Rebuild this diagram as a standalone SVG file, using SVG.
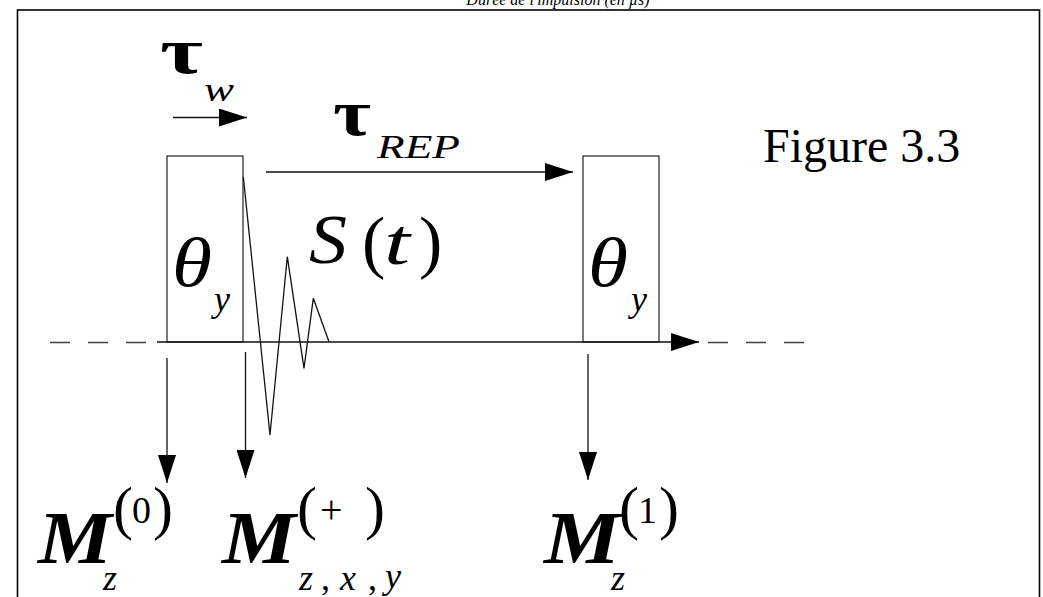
<svg xmlns="http://www.w3.org/2000/svg" width="1043" height="597" viewBox="0 0 1043 597">
<style>
  .ln{stroke:#111;stroke-width:1.3;fill:none}
  .box{stroke:#333;stroke-width:1.3;fill:none}
  .it{font-family:"Liberation Serif","Times New Roman","DejaVu Serif",serif;font-style:italic;fill:#000}
  .rm{font-family:"Liberation Serif","Times New Roman","DejaVu Serif",serif;fill:#000}
  .dash{stroke:#444;stroke-width:1.3;stroke-dasharray:20 18;fill:none}
</style>
<defs>
  <marker id="ah" viewBox="0 0 28 18" refX="28" refY="9" markerWidth="28" markerHeight="18" markerUnits="userSpaceOnUse" orient="auto">
    <path d="M0,0 L28,9 L0,18 z" fill="#000"/>
  </marker>
</defs>
<rect width="1043" height="597" fill="#fff"/>
<text class="it" x="558" y="5" font-size="16" text-anchor="middle">Durée de l'impulsion (en µs)</text>
<rect id="frame" x="17.5" y="10" width="1022" height="600" fill="none" stroke="#000" stroke-width="1.6"/>

<g id="pulse1">
  <rect class="box" x="167" y="156" width="76" height="186"/>
  <text class="it" x="172" y="286" font-size="70" textLength="40" lengthAdjust="spacingAndGlyphs">θ</text>
  <text class="it" x="214" y="311" font-size="36">y</text>
</g>
<g id="pulse2">
  <rect class="box" x="583" y="156" width="76" height="186"/>
  <text class="it" x="588" y="286" font-size="70" textLength="40" lengthAdjust="spacingAndGlyphs">θ</text>
  <text class="it" x="631" y="311" font-size="36">y</text>
</g>
<g id="tauw">
  <text class="rm" x="160" y="73" font-size="66" font-weight="bold" textLength="43" lengthAdjust="spacingAndGlyphs">τ</text>
  <text class="it" x="204" y="101" font-size="34" textLength="30" lengthAdjust="spacingAndGlyphs">w</text>
</g>
<g id="taurep">
  <text class="rm" x="333" y="135" font-size="66" font-weight="bold" textLength="38" lengthAdjust="spacingAndGlyphs">τ</text>
  <text class="it" x="377" y="158" font-size="33" textLength="83" lengthAdjust="spacingAndGlyphs">REP</text>
</g>
<g id="signal">
  <polyline class="ln" stroke-width="1.1" points="243.3,176.7 270,435 287.3,256.7 304,368.3 313.3,298.3 329,341.7"/>
  <text class="it" x="309" y="263" font-size="70" textLength="38" lengthAdjust="spacingAndGlyphs">S</text>
  <text class="rm" x="362" y="265" font-size="70">(</text>
  <text class="it" x="384" y="264" font-size="66" textLength="26" lengthAdjust="spacingAndGlyphs">t</text>
  <text class="rm" x="419" y="265" font-size="70">)</text>
</g>
<g id="figlabel">
  <text class="rm" x="763" y="162" font-size="48">Figure 3.3</text>
</g>
<g id="m0">
  <text class="it" x="38" y="563" font-size="74" font-weight="bold" textLength="74" lengthAdjust="spacingAndGlyphs">M</text>
  <text class="rm" x="113" y="528" font-size="60">(</text>
  <text class="rm" x="132" y="523" font-size="38">0</text>
  <text class="rm" x="153" y="528" font-size="60">)</text>
  <text class="it" x="103" y="590" font-size="36">z</text>
</g>
<g id="mplus">
  <text class="it" x="222" y="563" font-size="74" font-weight="bold" textLength="74" lengthAdjust="spacingAndGlyphs">M</text>
  <text class="rm" x="297" y="528" font-size="60">(</text>
  <text class="rm" x="320" y="523" font-size="40">+</text>
  <text class="rm" x="365" y="528" font-size="60">)</text>
  <text class="it" x="299" y="590" font-size="36">z</text>
  <text class="rm" x="321" y="590" font-size="36">,</text>
  <text class="it" x="340" y="590" font-size="36">x</text>
  <text class="rm" x="368" y="590" font-size="36">,</text>
  <text class="it" x="385" y="588" font-size="36">y</text>
</g>
<g id="m1">
  <text class="it" x="544" y="563" font-size="74" font-weight="bold" textLength="76" lengthAdjust="spacingAndGlyphs">M</text>
  <text class="rm" x="619" y="528" font-size="60">(</text>
  <text class="rm" x="638" y="523" font-size="38">1</text>
  <text class="rm" x="659" y="528" font-size="60">)</text>
  <text class="it" x="611" y="590" font-size="36">z</text>
</g>

<g id="connectors">
  <line class="dash" x1="50" y1="342.5" x2="146" y2="342.5"/>
  <line class="dash" x1="708" y1="342.5" x2="804" y2="342.5"/>
  <line class="ln" x1="157" y1="342" x2="699" y2="342" marker-end="url(#ah)"/>
  <line class="ln" x1="173" y1="117.5" x2="247" y2="117.5" marker-end="url(#ah)"/>
  <line class="ln" x1="266" y1="172" x2="573" y2="172" marker-end="url(#ah)"/>
  <line class="ln" x1="167" y1="358" x2="167" y2="483" marker-end="url(#ah)"/>
  <line class="ln" x1="245.5" y1="352" x2="245.5" y2="478" marker-end="url(#ah)"/>
  <line class="ln" x1="588" y1="354" x2="588" y2="480" marker-end="url(#ah)"/>
</g>
</svg>
